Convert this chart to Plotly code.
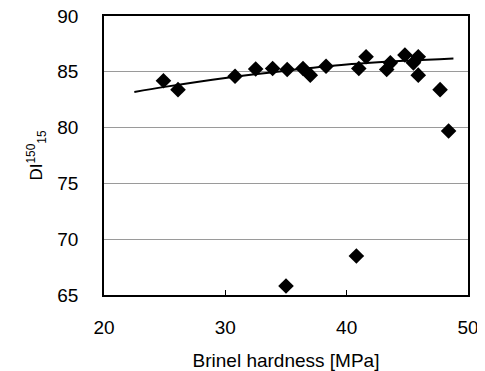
import plotly.graph_objects as go

hardness = [24.9, 26.1, 30.8, 32.5, 33.9, 35.1, 36.4, 37.0, 38.3, 41.0, 41.6,
            43.3, 43.6, 44.8, 45.5, 45.9, 45.9, 47.7, 48.4, 35.0, 40.8]
di_values = [84.2, 83.4, 84.6, 85.25, 85.3, 85.2, 85.3, 84.7, 85.5, 85.3, 86.35,
             85.2, 85.8, 86.5, 85.8, 86.35, 84.7, 83.4, 79.7, 65.8, 68.5]

trend_x = [22.5, 25, 30, 35, 40, 45, 48.8]
trend_y = [83.2, 83.65, 84.45, 85.1, 85.65, 86.0, 86.2]

x_ticks = [20, 30, 40, 50]
y_ticks = [65, 70, 75, 80, 85, 90]

font_family = "Liberation Sans, Arial, sans-serif"

fig = go.Figure()
fig.add_trace(go.Scatter(
    x=trend_x, y=trend_y, mode="lines",
    line=dict(color="black", width=2, shape="spline"),
    showlegend=False, hoverinfo="skip"))
fig.add_trace(go.Scatter(
    x=hardness, y=di_values, mode="markers",
    marker=dict(symbol="diamond", size=12, color="black"),
    showlegend=False))

fig.update_layout(
    width=477, height=363,
    margin=dict(l=96, r=17, t=8, b=76),
    paper_bgcolor="white", plot_bgcolor="white",
    font=dict(family=font_family, size=19, color="black"),
    xaxis=dict(
        range=[20, 50], tickvals=x_ticks, ticktext=[str(v) for v in x_ticks],
        showgrid=False, zeroline=False, automargin=False,
        showline=True, linecolor="black", linewidth=1.5, mirror=True,
        ticks="inside", ticklen=5, tickcolor="black",
        ticklabelstandoff=14, ticklabeloverflow="allow",
        title=dict(text="Brinel hardness [MPa]", standoff=19, font=dict(size=19)),
    ),
    yaxis=dict(
        range=[65, 90], tickvals=y_ticks, ticktext=[str(v) for v in y_ticks],
        showgrid=True, gridcolor="#9a9a9a", gridwidth=1, zeroline=False,
        automargin=False,
        showline=True, linecolor="black", linewidth=1.5, mirror=True,
        ticks="", ticklabelstandoff=20, ticklabeloverflow="allow",
        title=dict(text="DI<sup>150</sup><sub>15</sub>", standoff=10, font=dict(size=17)),
    ),
)

fig.write_html("out.html")
